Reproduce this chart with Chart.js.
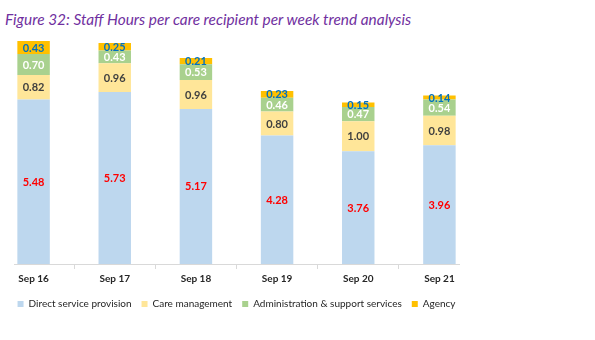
<!DOCTYPE html>
<html>
<head>
<meta charset="utf-8">
<script src="https://cdn.jsdelivr.net/npm/chart.js@4.4.0/dist/chart.umd.min.js"></script>
<style>
  body { margin: 0; background: #fff; overflow: hidden; }
  #wrap { position: relative; width: 595px; height: 340px; overflow: hidden; }
  #title {
    position: absolute; left: 5px; top: 10px; margin: 0;
    font: italic 15.4px Lato, sans-serif; color: #7030A0; white-space: nowrap;
  }
  /* canvas pushed a little left: the first category band starts left of the page */
  canvas { position: absolute; left: -7px; top: 0; }
</style>
</head>
<body>
<div id="wrap">
  <p id="title">Figure 32: Staff Hours per care recipient per week trend analysis</p>
  <canvas id="chart" width="602" height="340"></canvas>
</div>
<script>
// values
const periods = ['Sep 16', 'Sep 17', 'Sep 18', 'Sep 19', 'Sep 20', 'Sep 21'];
const directService = [5.48, 5.73, 5.17, 4.28, 3.76, 3.96];
const careManagement = [0.82, 0.96, 0.96, 0.80, 1.00, 0.98];
const adminSupport = [0.70, 0.43, 0.53, 0.46, 0.47, 0.54];
const agency = [0.43, 0.25, 0.21, 0.23, 0.15, 0.14];

const labelColors = ['#FF0000', '#404040', '#FFFFFF', '#0070C0'];
const FONT = 'Lato, sans-serif';

// writes each value in the middle of its segment
const segmentLabels = {
  id: 'segmentLabels',
  afterDatasetsDraw(chart) {
    const ctx = chart.ctx;
    ctx.save();
    ctx.font = 'bold 11px ' + FONT;
    ctx.textAlign = 'center';
    ctx.textBaseline = 'middle';
    chart.data.datasets.forEach((ds, i) => {
      const meta = chart.getDatasetMeta(i);
      ctx.fillStyle = labelColors[i];
      meta.data.forEach((bar, j) => {
        const p = bar.getProps(['x', 'y', 'base'], true);
        ctx.fillText(ds.data[j].toFixed(2), p.x, (p.y + p.base) / 2 + 0.5);
      });
    });
    ctx.restore();
  }
};

// the axis line in the picture is shorter than the category bands
const axisLine = {
  id: 'axisLine',
  afterDatasetsDraw(chart) {
    const ctx = chart.ctx;
    const y = chart.chartArea.bottom + 0.5;
    ctx.save();
    ctx.strokeStyle = '#D9D9D9';
    ctx.lineWidth = 1;
    ctx.beginPath();
    ctx.moveTo(21, y);
    ctx.lineTo(467, y);
    ctx.stroke();
    ctx.restore();
  }
};

new Chart(document.getElementById('chart'), {
  type: 'bar',
  data: {
    labels: periods,
    datasets: [
      { label: 'Direct service provision', data: directService, backgroundColor: '#BDD7EE' },
      { label: 'Care management', data: careManagement, backgroundColor: '#FFE699' },
      { label: 'Administration & support services', data: adminSupport, backgroundColor: '#A9D18E' },
      { label: 'Agency', data: agency, backgroundColor: '#FFC000' }
    ]
  },
  options: {
    responsive: false,
    animation: false,
    layout: { padding: { left: 0, right: 115, top: 24, bottom: 21 } },
    datasets: { bar: { categoryPercentage: 1, barPercentage: 0.4, borderWidth: 0 } },
    scales: {
      x: {
        stacked: true,
        border: { display: false },
        grid: {
          offset: true,
          drawOnChartArea: false,
          tickLength: 5,
          color: (c) => (c.type !== 'tick' || c.index === 0) ? 'rgba(0,0,0,0)' : '#D9D9D9'
        },
        ticks: { color: '#262626', padding: 4, font: { family: FONT, size: 10, weight: 'bold' } }
      },
      y: { stacked: true, display: false, min: 0, max: 8 }
    },
    plugins: {
      legend: {
        position: 'bottom',
        labels: {
          boxWidth: 6, boxHeight: 6, padding: 10, color: '#262626',
          font: { family: FONT, size: 10 }
        }
      },
      tooltip: { enabled: false }
    }
  },
  plugins: [segmentLabels, axisLine]
});
</script>
</body>
</html>
